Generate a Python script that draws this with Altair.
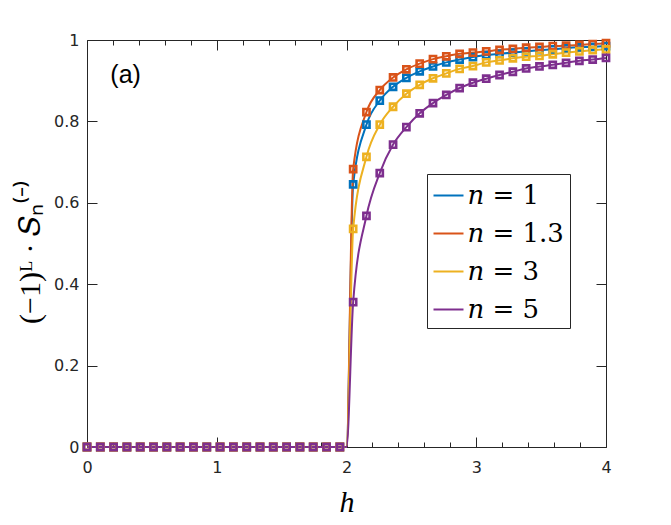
import altair as alt
import pandas as pd

# marker positions along h (40 evenly spaced samples)
h = [0.0000, 0.1026, 0.2051, 0.3077, 0.4103, 0.5128, 0.6154, 0.7179, 0.8205, 0.9231,
     1.0256, 1.1282, 1.2308, 1.3333, 1.4359, 1.5385, 1.6410, 1.7436, 1.8462, 1.9487,
     2.0513, 2.1538, 2.2564, 2.3590, 2.4615, 2.5641, 2.6667, 2.7692, 2.8718, 2.9744,
     3.0769, 3.1795, 3.2821, 3.3846, 3.4872, 3.5897, 3.6923, 3.7949, 3.8974, 4.0000]

s_n1 = [0, 0, 0, 0, 0, 0, 0, 0, 0, 0, 0, 0, 0, 0, 0, 0, 0, 0, 0, 0,
        0.645, 0.792, 0.851, 0.885, 0.907, 0.923, 0.935, 0.945, 0.952, 0.958,
        0.963, 0.966, 0.969, 0.972, 0.975, 0.977, 0.980, 0.982, 0.983, 0.985]
s_n13 = [0, 0, 0, 0, 0, 0, 0, 0, 0, 0, 0, 0, 0, 0, 0, 0, 0, 0, 0, 0,
         0.683, 0.823, 0.877, 0.908, 0.928, 0.942, 0.953, 0.960, 0.966, 0.969,
         0.972, 0.976, 0.978, 0.981, 0.983, 0.985, 0.986, 0.988, 0.990, 0.992]
s_n3 = [0, 0, 0, 0, 0, 0, 0, 0, 0, 0, 0, 0, 0, 0, 0, 0, 0, 0, 0, 0,
        0.536, 0.713, 0.792, 0.836, 0.868, 0.890, 0.906, 0.918, 0.929, 0.936,
        0.945, 0.950, 0.955, 0.959, 0.961, 0.965, 0.969, 0.972, 0.975, 0.977]
s_n5 = [0, 0, 0, 0, 0, 0, 0, 0, 0, 0, 0, 0, 0, 0, 0, 0, 0, 0, 0, 0,
        0.356, 0.568, 0.673, 0.743, 0.786, 0.820, 0.845, 0.865, 0.882, 0.895,
        0.905, 0.914, 0.922, 0.930, 0.935, 0.939, 0.944, 0.949, 0.952, 0.956]

# onset of the curves (all series leave zero at h = 2)
h_onset = 2.0
v_onset = 0.0

series_labels = ["𝑛 = 1", "𝑛 = 1.3", "𝑛 = 3", "𝑛 = 5"]
series_colors = ["#0072BD", "#D95319", "#EDB120", "#7E2F8E"]

x_major = [0, 1, 2, 3, 4]
x_minor = [0.2, 0.4, 0.6, 0.8, 1.2, 1.4, 1.6, 1.8, 2.2, 2.4, 2.6, 2.8, 3.2, 3.4, 3.6, 3.8]
y_ticks = [0, 0.2, 0.4, 0.6, 0.8, 1]

panel_label = "(a)"
panel_h = 0.18
panel_v = 0.915

pts_rows, line_rows = [], []
for lab, vals in zip(series_labels, [s_n1, s_n13, s_n3, s_n5]):
    for hv, v in zip(h, vals):
        pts_rows.append({"h": hv, "v": v, "n": lab})
    pairs = sorted(list(zip(h, vals)) + [(h_onset, v_onset)])
    for hv, v in pairs:
        line_rows.append({"h": hv, "v": v, "n": lab})
pts_df = pd.DataFrame(pts_rows)
line_df = pd.DataFrame(line_rows)

W, H = 519, 407
INK = "#262626"

xs = alt.Scale(domain=[0, 4], nice=False, zero=False)
ys = alt.Scale(domain=[0, 1], nice=False, zero=False)
cs = alt.Scale(domain=series_labels, range=series_colors)


def tick_axis(orient, offset, values, size):
    return alt.Axis(orient=orient, offset=offset, values=values, tickSize=size,
                    labels=False, domain=False, grid=False, ticks=True,
                    tickColor=INK, tickWidth=1, title=None)


main_x = alt.Axis(orient="bottom", values=x_major, format="d", tickSize=0, domain=False,
                  grid=False, labelFont="DejaVu Sans", labelFontSize=16, labelColor=INK,
                  labelPadding=12, labelFlush=False, title="h",
                  titleFont="Liberation Serif", titleFontStyle="italic",
                  titleFontWeight="normal", titleFontSize=30, titleColor="#000000",
                  titleX=W / 2, titleY=64, titleBaseline="alphabetic", titleAlign="center")
main_y = alt.Axis(orient="left", values=y_ticks, format="~g", tickSize=0, domain=False,
                  grid=False, labelFont="DejaVu Sans", labelFontSize=16, labelColor=INK,
                  labelPadding=8, labelFlush=False, title="(−1)ᴸ · 𝑆ₙ⁽⁻⁾",
                  titleFont="Liberation Serif", titleFontWeight="normal", titleFontSize=30,
                  titleColor="#000000", titleAngle=270, titleX=-57, titleY=H / 2 + 8,
                  titleBaseline="middle", titleAlign="center")

legend = alt.Legend(orient="none", legendX=340, legendY=134, title=None,
                    symbolType="stroke", symbolSize=900, symbolStrokeWidth=2,
                    labelFont="DejaVu Serif", labelFontSize=26, labelColor="#000000",
                    labelOffset=3, padding=5.5, rowPadding=9, strokeColor=INK,
                    fillColor="white", labelLimit=400)

lines = alt.Chart(line_df).mark_line(strokeWidth=2, interpolate="monotone").encode(
    x=alt.X("h:Q", scale=xs, axis=main_x),
    y=alt.Y("v:Q", scale=ys, axis=main_y),
    color=alt.Color("n:N", scale=cs, legend=legend, sort=series_labels),
)

points = alt.Chart(pts_df).mark_point(shape="square", filled=False, size=38,
                                      strokeWidth=2.6, opacity=1).encode(
    x=alt.X("h:Q", scale=xs, axis=tick_axis("top", -H, x_major, 10)),
    y=alt.Y("v:Q", scale=ys, axis=tick_axis("right", -W, y_ticks, 10)),
    color=alt.Color("n:N", scale=cs, legend=None, sort=series_labels),
)

label = alt.Chart(pd.DataFrame({"t": [panel_label]})).mark_text(
    font="Liberation Sans", fontSize=25, align="left", baseline="middle", color="#000000"
).encode(
    x=alt.XDatum(panel_h, type="quantitative", scale=xs,
                 axis=tick_axis("bottom", -H, x_major, 10)),
    y=alt.YDatum(panel_v, type="quantitative", scale=ys,
                 axis=tick_axis("left", -W, y_ticks, 10)),
    text="t:N",
)

minor_a = alt.Chart(pts_df).mark_point(opacity=0).encode(
    x=alt.X("h:Q", scale=xs, axis=tick_axis("top", -H, x_minor, 5)),
    y=alt.Y("v:Q", scale=ys, axis=None),
)
minor_b = alt.Chart(pts_df).mark_point(opacity=0).encode(
    x=alt.X("h:Q", scale=xs, axis=tick_axis("bottom", -H, x_minor, 5)),
    y=alt.Y("v:Q", scale=ys, axis=None),
)

chart = alt.layer(lines, points, label, minor_a, minor_b).resolve_axis(
    x="independent", y="independent"
).properties(
    width=W, height=H,
    autosize=alt.AutoSizeParams(type="none"),
    padding={"left": 79, "top": 32, "right": 50, "bottom": 70},
    background="white",
).configure_view(stroke=INK, strokeWidth=1)

chart.save("out.html", embed_options={"renderer": "svg", "actions": False})
